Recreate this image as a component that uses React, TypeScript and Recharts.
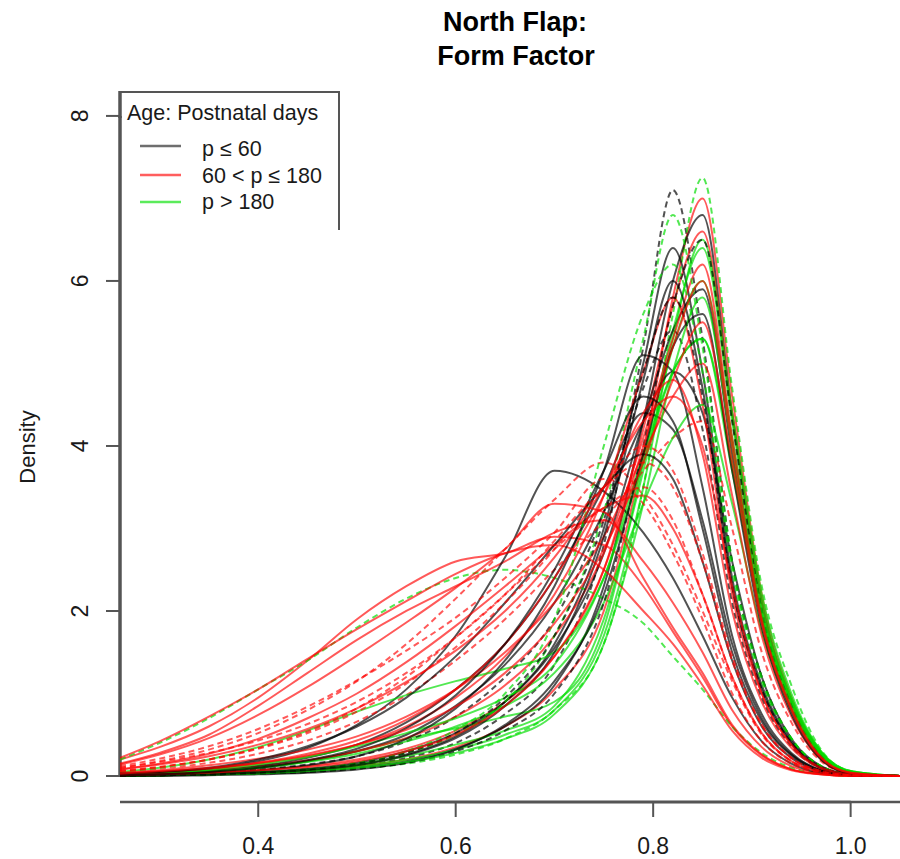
import React from 'react';
import { LineChart, Line, XAxis, YAxis, ReferenceLine, Legend } from 'recharts';

// x grid of the density estimates (Form Factor)
const xGrid = [0.26, 0.30, 0.35, 0.40, 0.45, 0.50, 0.55, 0.60, 0.65, 0.70, 0.75, 0.79, 0.82, 0.85, 0.88, 0.91, 0.94, 0.97, 1.00, 1.05];

const xTicks = [0.4, 0.6, 0.8, 1.0];
const yTicks = [0, 2, 4, 6, 8];

const titleLines = ['North Flap:', 'Form Factor'];
const legendTitle = 'Age: Postnatal days';
const legendLabels = ['p \u2264 60', '60 < p \u2264 180', 'p > 180'];

// Group p <= 60 (black)
const black1 = [0, 0.01, 0.02, 0.04, 0.07, 0.12, 0.22, 0.4, 0.75, 1.35, 2.8, 5.2, 7.1, 5.3, 2.6, 1.2, 0.45, 0.12, 0.02, 0];
const black2 = [0, 0.01, 0.02, 0.03, 0.05, 0.1, 0.18, 0.33, 0.6, 1.1, 2.3, 4.3, 6.0, 6.8, 4.4, 2.1, 0.9, 0.26, 0.05, 0];
const black3 = [0, 0.01, 0.02, 0.04, 0.08, 0.14, 0.26, 0.48, 0.9, 1.6, 3.0, 5.0, 6.4, 4.9, 2.4, 1.1, 0.42, 0.11, 0.02, 0];
const black4 = [0, 0.01, 0.03, 0.05, 0.09, 0.16, 0.3, 0.52, 0.9, 1.55, 2.7, 4.3, 5.4, 5.9, 3.9, 1.9, 0.8, 0.22, 0.04, 0];
const black5 = [0.01, 0.02, 0.04, 0.08, 0.14, 0.24, 0.42, 0.72, 1.2, 1.9, 3.2, 4.7, 5.4, 4.2, 2.1, 0.95, 0.36, 0.09, 0.01, 0];
const black6 = [0.01, 0.02, 0.05, 0.1, 0.18, 0.3, 0.5, 0.85, 1.35, 2.1, 3.2, 4.3, 4.9, 4.4, 2.6, 1.2, 0.45, 0.12, 0.02, 0];
const black7 = [0.02, 0.03, 0.06, 0.12, 0.22, 0.38, 0.65, 1.05, 1.6, 2.4, 3.5, 4.4, 4.2, 3.1, 1.6, 0.7, 0.26, 0.07, 0.01, 0];
const black8 = [0.02, 0.04, 0.09, 0.18, 0.34, 0.62, 1.05, 1.7, 2.65, 3.7, 3.45, 2.95, 2.4, 1.7, 0.95, 0.42, 0.15, 0.04, 0.01, 0];
const black9 = [0, 0.01, 0.02, 0.03, 0.05, 0.09, 0.16, 0.3, 0.55, 1.0, 2.1, 4.0, 5.7, 6.5, 4.3, 2.0, 0.85, 0.24, 0.04, 0];
const black10 = [0.01, 0.02, 0.04, 0.07, 0.13, 0.24, 0.45, 0.82, 1.4, 2.3, 3.7, 5.1, 4.9, 3.5, 1.7, 0.75, 0.28, 0.07, 0.01, 0];
const black11 = [0, 0, 0.01, 0.02, 0.04, 0.08, 0.16, 0.32, 0.62, 1.15, 2.2, 3.9, 5.2, 5.6, 3.7, 1.8, 0.75, 0.2, 0.03, 0];
const black12 = [0.03, 0.05, 0.1, 0.2, 0.36, 0.6, 0.95, 1.45, 2.1, 2.8, 3.5, 3.9, 3.6, 2.6, 1.4, 0.6, 0.22, 0.06, 0.01, 0];
const black13 = [0, 0.01, 0.02, 0.04, 0.07, 0.13, 0.25, 0.46, 0.85, 1.5, 2.9, 4.8, 6.0, 4.7, 2.3, 1.05, 0.4, 0.1, 0.02, 0];
const black14 = [0, 0.01, 0.02, 0.04, 0.08, 0.15, 0.28, 0.52, 0.95, 1.7, 3.1, 4.9, 5.8, 4.6, 2.3, 1.05, 0.4, 0.1, 0.02, 0];
const black15 = [0.01, 0.02, 0.05, 0.1, 0.19, 0.33, 0.58, 0.98, 1.6, 2.5, 3.7, 4.6, 4.3, 3.0, 1.5, 0.66, 0.25, 0.06, 0.01, 0];

// Group 60 < p <= 180 (red)
const red1 = [0, 0.01, 0.02, 0.04, 0.07, 0.12, 0.2, 0.35, 0.6, 1.05, 2.0, 3.9, 5.8, 7.0, 4.6, 2.2, 0.95, 0.28, 0.05, 0];
const red2 = [0.01, 0.02, 0.04, 0.07, 0.12, 0.2, 0.33, 0.55, 0.9, 1.45, 2.5, 4.2, 5.7, 6.6, 4.4, 2.1, 0.9, 0.26, 0.05, 0];
const red3 = [0.1, 0.18, 0.32, 0.52, 0.8, 1.15, 1.6, 2.15, 2.75, 3.35, 3.8, 3.4, 2.8, 2.0, 1.15, 0.5, 0.18, 0.05, 0.01, 0];
const red4 = [0.2, 0.35, 0.6, 0.95, 1.4, 1.9, 2.3, 2.6, 2.7, 2.9, 2.8, 2.3, 1.75, 1.2, 0.6, 0.25, 0.08, 0.02, 0, 0];
const red5 = [0.15, 0.28, 0.5, 0.85, 1.25, 1.65, 2.0, 2.3, 2.6, 2.95, 3.1, 2.6, 2.1, 1.5, 0.8, 0.35, 0.12, 0.03, 0, 0];
const red6 = [0.02, 0.04, 0.07, 0.12, 0.19, 0.3, 0.46, 0.72, 1.1, 1.7, 2.7, 4.1, 5.3, 6.2, 4.1, 1.95, 0.85, 0.24, 0.04, 0];
const red7 = [0.03, 0.05, 0.09, 0.15, 0.24, 0.38, 0.6, 0.95, 1.45, 2.2, 3.4, 4.9, 5.8, 4.5, 2.2, 1.0, 0.38, 0.1, 0.02, 0];
const red8 = [0.05, 0.09, 0.16, 0.27, 0.43, 0.66, 0.98, 1.4, 1.9, 2.5, 3.1, 3.7, 4.1, 4.3, 3.0, 1.5, 0.65, 0.18, 0.03, 0];
const red9 = [0.08, 0.15, 0.27, 0.45, 0.7, 1.0, 1.38, 1.82, 2.3, 2.8, 3.25, 3.4, 3.0, 2.2, 1.2, 0.52, 0.18, 0.05, 0.01, 0];
const red10 = [0.04, 0.07, 0.13, 0.21, 0.32, 0.48, 0.72, 1.05, 1.5, 2.1, 2.9, 3.9, 4.6, 5.0, 3.4, 1.7, 0.72, 0.2, 0.03, 0];
const red11 = [0.02, 0.05, 0.09, 0.16, 0.27, 0.43, 0.68, 1.05, 1.6, 2.4, 3.4, 4.4, 4.8, 3.9, 2.0, 0.9, 0.34, 0.09, 0.01, 0];
const red12 = [0.06, 0.11, 0.2, 0.34, 0.54, 0.82, 1.2, 1.68, 2.2, 2.75, 3.25, 3.5, 3.1, 2.2, 1.2, 0.52, 0.18, 0.05, 0.01, 0];
const red13 = [0.22, 0.42, 0.72, 1.05, 1.42, 1.78, 2.12, 2.45, 2.7, 2.8, 2.5, 2.0, 1.6, 1.1, 0.55, 0.22, 0.07, 0.02, 0, 0];
const red14 = [0.01, 0.02, 0.04, 0.07, 0.11, 0.18, 0.3, 0.5, 0.85, 1.45, 2.5, 4.0, 5.2, 6.0, 4.0, 1.9, 0.82, 0.23, 0.04, 0];
const red15 = [0.1, 0.17, 0.28, 0.43, 0.63, 0.9, 1.25, 1.68, 2.2, 2.85, 3.5, 3.8, 3.5, 2.6, 1.4, 0.62, 0.22, 0.06, 0.01, 0];
const red16 = [0.03, 0.06, 0.1, 0.16, 0.25, 0.38, 0.56, 0.84, 1.25, 1.85, 2.75, 3.8, 4.8, 5.5, 3.8, 1.85, 0.8, 0.22, 0.04, 0];
const red17 = [0.12, 0.21, 0.36, 0.57, 0.84, 1.16, 1.52, 1.92, 2.4, 2.95, 3.6, 3.3, 2.7, 1.9, 1.0, 0.42, 0.15, 0.04, 0.01, 0];
const red18 = [0.08, 0.14, 0.24, 0.38, 0.57, 0.82, 1.14, 1.52, 2.0, 2.65, 3.5, 4.3, 4.6, 4.0, 2.3, 1.0, 0.38, 0.1, 0.02, 0];
const red19 = [0.14, 0.26, 0.46, 0.74, 1.08, 1.46, 1.86, 2.28, 2.75, 3.3, 3.2, 2.4, 1.8, 1.25, 0.62, 0.26, 0.08, 0.02, 0, 0];
const red20 = [0.06, 0.11, 0.2, 0.33, 0.52, 0.78, 1.12, 1.56, 2.1, 2.75, 3.5, 4.0, 3.7, 2.7, 1.45, 0.62, 0.22, 0.06, 0.01, 0];

// Group p > 180 (green)
const green1 = [0, 0.01, 0.02, 0.03, 0.05, 0.09, 0.15, 0.26, 0.45, 0.8, 1.6, 3.5, 5.6, 7.25, 4.7, 2.3, 1.1, 0.32, 0.06, 0];
const green2 = [0.01, 0.02, 0.05, 0.1, 0.18, 0.3, 0.45, 0.58, 0.72, 0.9, 1.8, 3.8, 5.4, 6.4, 4.3, 2.1, 0.95, 0.3, 0.06, 0];
const green3 = [0, 0.01, 0.02, 0.04, 0.08, 0.14, 0.24, 0.38, 0.55, 0.85, 1.9, 3.7, 5.2, 6.0, 4.1, 2.0, 0.9, 0.27, 0.05, 0];
const green4 = [0.2, 0.4, 0.7, 1.05, 1.4, 1.8, 2.15, 2.4, 2.5, 2.4, 2.15, 1.85, 1.45, 1.05, 0.6, 0.28, 0.1, 0.03, 0, 0];
const green5 = [0, 0.01, 0.02, 0.04, 0.07, 0.12, 0.2, 0.32, 0.5, 0.8, 1.7, 3.5, 5.3, 6.5, 4.4, 2.2, 1.0, 0.3, 0.06, 0];
const green6 = [0, 0.01, 0.02, 0.04, 0.08, 0.15, 0.28, 0.5, 0.9, 1.7, 3.2, 5.3, 6.8, 5.2, 2.6, 1.2, 0.46, 0.12, 0.02, 0];
const green7 = [0.02, 0.04, 0.08, 0.14, 0.23, 0.36, 0.52, 0.7, 0.95, 1.35, 2.4, 3.9, 4.9, 5.3, 3.8, 1.95, 0.9, 0.28, 0.05, 0];
const green8 = [0.01, 0.03, 0.06, 0.1, 0.17, 0.27, 0.42, 0.6, 0.85, 1.25, 2.1, 3.3, 4.1, 4.5, 3.3, 1.75, 0.8, 0.25, 0.05, 0];
const green9 = [0.05, 0.1, 0.2, 0.35, 0.55, 0.78, 0.98, 1.15, 1.3, 1.5, 2.4, 3.8, 4.9, 5.3, 3.7, 1.9, 0.85, 0.25, 0.04, 0];
const green10 = [0, 0.01, 0.02, 0.04, 0.08, 0.16, 0.3, 0.56, 1.0, 1.9, 4.0, 5.6, 6.2, 4.9, 2.5, 1.15, 0.45, 0.12, 0.02, 0];
const green11 = [0, 0.01, 0.02, 0.03, 0.06, 0.1, 0.17, 0.28, 0.45, 0.75, 1.6, 3.3, 4.9, 5.8, 4.0, 2.0, 0.92, 0.28, 0.05, 0];

const blackCurves = [black1, black2, black3, black4, black5, black6, black7, black8, black9, black10, black11, black12, black13, black14, black15];
const redCurves = [red1, red2, red3, red4, red5, red6, red7, red8, red9, red10, red11, red12, red13, red14, red15, red16, red17, red18, red19, red20];
const greenCurves = [green1, green2, green3, green4, green5, green6, green7, green8, green9, green10, green11];

const dashedKeys = ['k1', 'k9', 'k14', 'r3', 'r12', 'r15', 'r17', 'r20', 'g1', 'g6', 'g10', 'k5', 'r8', 'g4'];

const FONT = '"Liberation Sans", Arial, Helvetica, sans-serif';
const BLACK = '#000000';
const RED = '#ff0000';
const GREEN = '#00dd00';

type Series = { key: string; values: number[]; color: string; opacity: number };

const seriesList: Series[] = [];
{
  const maxLen = Math.max(blackCurves.length, redCurves.length, greenCurves.length);
  for (let i = 0; i < maxLen; i++) {
    if (i < blackCurves.length) seriesList.push({ key: 'k' + (i + 1), values: blackCurves[i], color: BLACK, opacity: 0.68 });
    if (i < redCurves.length) seriesList.push({ key: 'r' + (i + 1), values: redCurves[i], color: RED, opacity: 0.65 });
    if (i < greenCurves.length) seriesList.push({ key: 'g' + (i + 1), values: greenCurves[i], color: GREEN, opacity: 0.68 });
  }
}

const data = xGrid.map((x, i) => {
  const row: Record<string, number> = { x };
  seriesList.forEach((s) => {
    row[s.key] = s.values[i];
  });
  return row;
});

const X_DOMAIN: [number, number] = [0.26, 1.05];
const Y_DOMAIN: [number, number] = [-0.315, 8.29];

const XTick = (props: any) => {
  const { x, y, payload } = props;
  return (
    <text x={x} y={y + 37} textAnchor="middle" fontSize={23} fontFamily={FONT} fill="#1a1a1a">
      {Number(payload.value).toFixed(1)}
    </text>
  );
};

const YTick = (props: any) => {
  const { x, y, payload } = props;
  const bx = x - 18;
  return (
    <text
      x={bx}
      y={y}
      textAnchor="middle"
      fontSize={23}
      fontFamily={FONT}
      fill="#1a1a1a"
      transform={`rotate(-90, ${bx}, ${y})`}
    >
      {payload.value}
    </text>
  );
};

const DensityLabel = (props: any) => {
  const vb = props.viewBox || { x: 0, y: 92, width: 120, height: 710 };
  const cx = vb.x + 35;
  const cy = vb.y + vb.height / 2;
  return (
    <text
      x={cx}
      y={cy}
      textAnchor="middle"
      fontSize={22}
      fontFamily={FONT}
      fill="#1a1a1a"
      transform={`rotate(-90, ${cx}, ${cy})`}
    >
      Density
    </text>
  );
};

const legendColors = ['#6e6e6e', '#ff5e5e', '#5beb5b'];

const Overlay = () => (
  <svg width={900} height={859} style={{ display: 'block' }}>
    {/* Title */}
    <text x={515} y={30.5} textAnchor="middle" fontSize={27} fontWeight="bold" fontFamily={FONT} fill="#000">
      {titleLines[0]}
    </text>
    <text x={516} y={65} textAnchor="middle" fontSize={27} fontWeight="bold" fontFamily={FONT} fill="#000">
      {titleLines[1]}
    </text>
    {/* Legend box */}
    <line x1={120} y1={92} x2={339} y2={92} stroke="#555" strokeWidth={2} />
    <line x1={339} y1={91} x2={339} y2={230} stroke="#555" strokeWidth={2} />
    <line x1={120} y1={91} x2={120} y2={118} stroke="#555" strokeWidth={3.5} />
    <text x={127} y={120} fontSize={21.5} fontFamily={FONT} fill="#1a1a1a">
      {legendTitle}
    </text>
    {legendLabels.map((lab, i) => {
      const ly = [146, 175, 202][i];
      const ty = [156, 183, 209][i];
      return (
        <g key={lab}>
          <line x1={140} y1={ly} x2={181} y2={ly} stroke={legendColors[i]} strokeWidth={2.5} />
          <text x={202} y={ty} fontSize={21.5} fontFamily={FONT} fill="#1a1a1a">
            {lab}
          </text>
        </g>
      );
    })}
  </svg>
);

export default function App() {
  return (
    <div style={{ position: 'absolute', left: 0, top: 0, width: 900, height: 859, background: '#fff' }}>
      <LineChart width={900} height={859} data={data} margin={{ top: 92, right: 0, bottom: 0, left: 0 }}>
        <XAxis
          dataKey="x"
          type="number"
          domain={X_DOMAIN}
          allowDataOverflow
          ticks={xTicks}
          interval={0}
          height={57}
          tickSize={15}
          tickMargin={0}
          tick={<XTick />}
          axisLine={{ stroke: '#555', strokeWidth: 2.5 }}
          tickLine={{ stroke: '#555', strokeWidth: 2 }}
        />
        <YAxis
          type="number"
          domain={Y_DOMAIN}
          allowDataOverflow
          ticks={yTicks}
          interval={0}
          width={120}
          tickSize={14}
          tickMargin={0}
          tick={<YTick />}
          axisLine={false}
          tickLine={{ stroke: '#555', strokeWidth: 2 }}
          label={{ value: 'Density', content: <DensityLabel /> }}
        />
        <ReferenceLine
          segment={[{ x: 0.4, y: Y_DOMAIN[0] }, { x: 1.0, y: Y_DOMAIN[0] }]}
          stroke="#111"
          strokeWidth={2.5}
          ifOverflow="visible"
        />
        <ReferenceLine
          segment={[{ x: X_DOMAIN[0], y: 0 }, { x: X_DOMAIN[0], y: 8 }]}
          stroke="#555"
          strokeWidth={3.5}
          ifOverflow="visible"
        />
        {seriesList.map((s) => (
          <Line
            key={s.key}
            dataKey={s.key}
            type="monotone"
            stroke={s.color}
            strokeOpacity={s.opacity}
            strokeWidth={2}
            strokeDasharray={dashedKeys.includes(s.key) ? '6 4' : undefined}
            dot={false}
            activeDot={false}
            isAnimationActive={false}
            legendType="none"
          />
        ))}
        <Legend
          verticalAlign="middle"
          align="center"
          layout="horizontal"
          wrapperStyle={{ position: 'absolute', left: 0, top: 0, width: 900, height: 859, pointerEvents: 'none' }}
          content={<Overlay />}
        />
      </LineChart>
    </div>
  );
}
